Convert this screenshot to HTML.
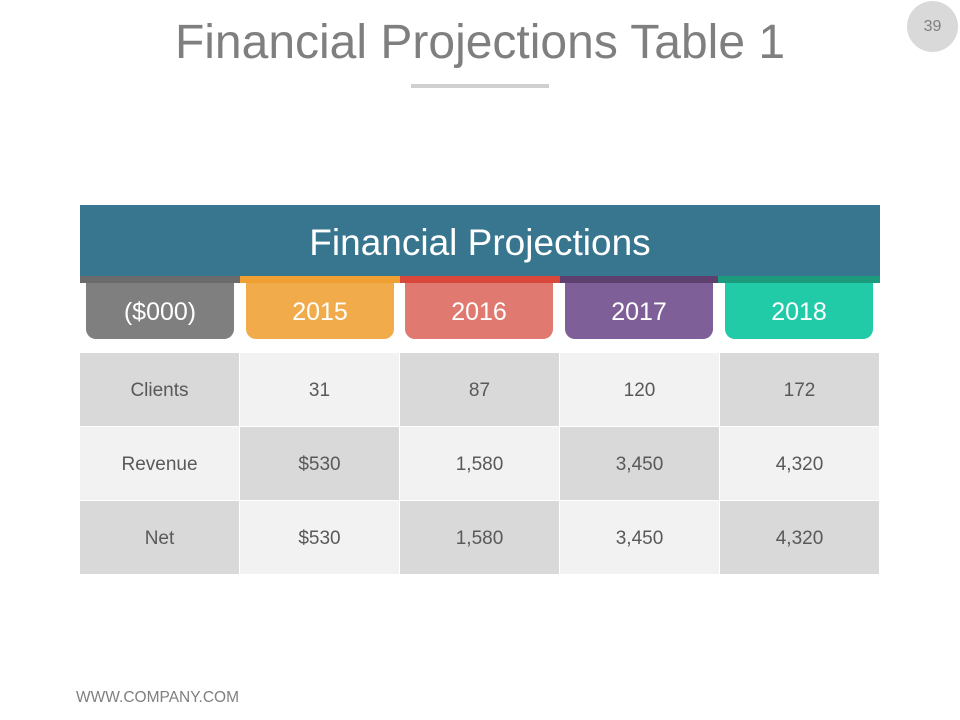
<!DOCTYPE html>
<html><head><meta charset="utf-8"><style>
body{margin:0;width:960px;height:720px;background:#fff;font-family:"Liberation Sans",Arial,sans-serif;position:relative;overflow:hidden}
.a{position:absolute}
.tab{position:absolute;top:283px;width:148px;height:56px;border-radius:0 0 10px 10px;color:#fff;font-size:25px;line-height:58px;text-align:center}
.strip{position:absolute;top:276px;height:7px}
.cell{position:absolute;width:159px;height:73px;line-height:76px;text-align:center;font-size:19px;color:#595959}
</style></head><body>
<div class="a" style="left:0;width:960px;top:15px;text-align:center;font-size:48px;color:#7f7f7f">Financial Projections Table 1</div>
<div class="a" style="left:411px;top:84px;width:138px;height:4px;background:#d0d0d0"></div>
<div class="a" style="left:907px;top:1px;width:51px;height:51px;border-radius:50%;background:#d9d9d9;color:#7f7f7f;font-size:16px;text-align:center;line-height:51px">39</div>
<div class="a" style="left:80px;top:205px;width:800px;height:71px;background:#38768f;color:#fff;font-size:37px;text-align:center;line-height:76px">Financial Projections</div>
<div class="strip" style="left:80px;width:160px;background:#6b6b6b"></div>
<div class="strip" style="left:240px;width:160px;background:#f0a032"></div>
<div class="strip" style="left:400px;width:160px;background:#d9463a"></div>
<div class="strip" style="left:560px;width:158px;background:#5e3f6e"></div>
<div class="strip" style="left:718px;width:162px;background:#1d9a7c"></div>
<div class="tab" style="left:86px;background:#7f7f7f">($000)</div>
<div class="tab" style="left:246px;background:#f2ab4a">2015</div>
<div class="tab" style="left:405px;background:#e07a70">2016</div>
<div class="tab" style="left:565px;background:#7f5f98">2017</div>
<div class="tab" style="left:725px;background:#22cba8">2018</div>
<div id="tbl"></div>
<div class="a" style="left:76px;top:689px;font-size:15.5px;color:#7f7f7f">WWW.COMPANY.COM</div>
<script>
const rows=[["Clients","31","87","120","172"],["Revenue","$530","1,580","3,450","4,320"],["Net","$530","1,580","3,450","4,320"]];
const tbl=document.getElementById('tbl');
rows.forEach((r,i)=>r.forEach((v,j)=>{
const d=document.createElement('div');
d.className='cell';


d.style.left=(80+j*160)+'px';d.style.top=(353+i*74)+'px';
d.style.background=((i+j)%2==0)?'#d9d9d9':'#f2f2f2';
d.textContent=v;tbl.appendChild(d);}));
</script>
</body></html>
